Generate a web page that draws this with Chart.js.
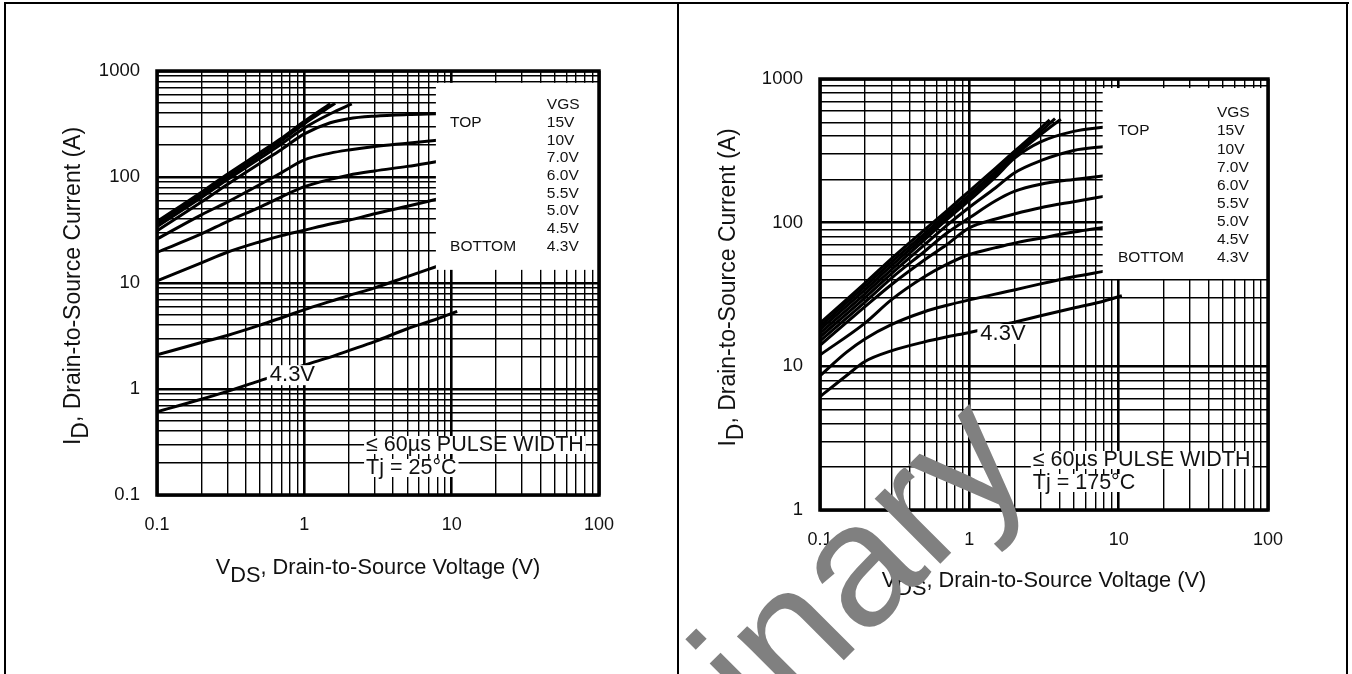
<!DOCTYPE html>
<html>
<head>
<meta charset="utf-8">
<script src="https://cdn.jsdelivr.net/npm/chart.js@4.4.1/dist/chart.umd.min.js"></script>
<style>
  html, body { margin: 0; padding: 0; background: #fff; }
  #page { position: relative; width: 1352px; height: 674px; overflow: hidden; background: #fff; }
  canvas { position: absolute; top: 0; }
  .rule { position: absolute; background: #000; }
</style>
</head>
<body>
<div id="page">
  <canvas id="fig25" width="679" height="674" style="left:0"></canvas>
  <canvas id="fig175" width="673" height="674" style="left:679px"></canvas>
  <div class="rule" style="left:4px;top:2px;width:1345px;height:2px"></div>
  <div class="rule" style="left:4px;top:2px;width:2px;height:672px"></div>
  <div class="rule" style="left:677px;top:2px;width:2px;height:672px"></div>
  <div class="rule" style="left:1346px;top:2px;width:2px;height:672px"></div>
</div>
<script>
/* ── Typical output characteristics · ID vs VDS ───────────── */

const FONT = '"Liberation Sans", Arial, Helvetica, sans-serif';
const INK  = '#111';

// ── Tick labels ─────
const xTickVals      = [0.1, 1, 10, 100];
const xTickLabels    = ['0.1', '1', '10', '100'];
const yTickVals25    = [0.1, 1, 10, 100, 1000];
const yTickLabels25  = ['0.1', '1', '10', '100', '1000'];
const yTickVals175   = [1, 10, 100, 1000];
const yTickLabels175 = ['1', '10', '100', '1000'];
const vgsLegend      = ['15V', '10V', '7.0V', '6.0V', '5.5V', '5.0V', '4.5V', '4.3V'];

// ── Tj = 25°C (VDS in V, ID in A) ─────
const vds25_a = [0.1, 0.2, 0.3, 0.5, 0.7, 1, 1.5];
const id25_a  = [38, 72, 106, 170, 232, 335, 492];
const vds25_b = [0.1, 0.2, 0.3, 0.5, 0.7, 1, 1.62];
const id25_b  = [36, 68, 100, 160, 220, 318, 495];
const vds25_c = [0.1, 0.2, 0.3, 0.5, 0.7, 1, 1.5, 2.1];
const id25_c  = [34, 64, 94, 150, 205, 290, 395, 490];
const vds25   = [0.1, 0.2, 0.3, 0.5, 0.7, 1, 1.5, 2, 3, 5, 8];
const id25_d  = [31, 58, 85, 135, 182, 255, 325, 355, 375, 388, 395];
const id25_e  = [26, 44, 58, 85, 110, 145, 168, 180, 194, 208, 222];
const id25_f  = [19.5, 29, 38, 52, 65, 81, 95, 104, 114, 126, 140];
const id25_g  = [10.5, 15.5, 19.5, 24.5, 28, 31.5, 36, 39, 45, 53, 62];
const id25_h  = [2.1, 2.75, 3.2, 4.0, 4.7, 5.6, 6.7, 7.6, 9.0, 11.5, 14.4];
const vds25_i = [0.1, 0.2, 0.3, 0.5, 0.7, 1, 1.5, 2, 3, 5, 8, 10.9];
const id25_i  = [0.61, 0.8, 0.95, 1.2, 1.4, 1.68, 2.0, 2.3, 2.8, 3.7, 4.6, 5.4];

// ── Tj = 175°C ─────
const vds175_a = [0.1, 0.2, 0.3, 0.5, 0.7, 1, 1.5, 2, 3, 3.45];
const id175_a  = [20, 38, 56, 89, 120, 166, 240, 313, 454, 520];
const vds175_b = [0.1, 0.2, 0.3, 0.5, 0.7, 1, 1.5, 2, 3, 3.75];
const id175_b  = [19, 36, 53, 84, 114, 157, 228, 300, 430, 530];
const vds175_c = [0.1, 0.2, 0.3, 0.5, 0.7, 1, 1.5, 2, 3, 4.1];
const id175_c  = [18, 34, 50, 80, 109, 150, 218, 290, 410, 525];
const vds175   = [0.1, 0.2, 0.3, 0.5, 0.7, 1, 1.5, 2, 3, 5, 8.1];
const id175_d  = [17, 32, 47, 76, 104, 143, 208, 280, 365, 432, 464];
const id175_e  = [16, 30, 44, 70, 95, 128, 175, 222, 270, 318, 339];
const id175_f  = [15, 28, 41, 63, 84, 108, 142, 165, 185, 200, 212];
const id175_g  = [14, 26, 37, 55, 70, 92, 106, 115, 127, 140, 153];
const id175_h  = [12, 20, 29, 42, 51, 60, 67, 72, 78, 86, 93];
const vds175_i = [0.1, 0.15, 0.2, 0.3, 0.5, 0.7, 1, 2, 3, 5, 8.1];
const id175_i  = [8.6, 12.5, 15.5, 19.5, 24, 26.5, 29, 34, 37.5, 42, 46];
const vds175_j = [0.1, 0.15, 0.2, 0.3, 0.5, 0.7, 1, 2, 3, 5, 8, 10.5];
const id175_j  = [6.15, 8.6, 10.8, 12.8, 14.8, 16, 17.2, 20.3, 22.5, 25.5, 28.5, 31];

const curves25 = [
  [vds25_a, id25_a], [vds25_b, id25_b], [vds25_c, id25_c],
  [vds25, id25_d], [vds25, id25_e], [vds25, id25_f], [vds25, id25_g], [vds25, id25_h],
  [vds25_i, id25_i]
];
const curves175 = [
  [vds175_a, id175_a], [vds175_b, id175_b], [vds175_c, id175_c],
  [vds175, id175_d], [vds175, id175_e], [vds175, id175_f], [vds175, id175_g], [vds175, id175_h],
  [vds175_i, id175_i], [vds175_j, id175_j]
];

// 1..9 por década
function logGrid(minExp, maxExp) {
  const out = [];
  for (let e = minExp; e < maxExp; e++) {
    for (let m = 1; m <= 9; m++) out.push({ value: +(m * Math.pow(10, e)).toPrecision(6), major: m === 1 });
  }
  out.push({ value: Math.pow(10, maxExp), major: true });
  return out;
}

function labelFor(vals, labels) {
  return v => {
    const k = vals.findIndex(t => Math.abs(t - v) < t * 1e-6);
    return k >= 0 ? labels[k] : '';
  };
}

function drawParts(ctx, parts, x0, y0) {
  let x = x0;
  parts.forEach(([t, dy]) => { ctx.fillText(t, x, y0 + dy); x += ctx.measureText(t).width; });
}
function partsWidth(ctx, parts) {
  return parts.reduce((s, [t]) => s + ctx.measureText(t).width, 0);
}

const sheetDecor = {
  id: 'sheetDecor',
  afterDatasetsDraw(chart, args, o) {
    const { ctx, chartArea: a, scales: { x, y } } = chart;
    const w = a.right - a.left, h = a.bottom - a.top;
    ctx.save();

    // legend box
    const bx = a.left + o.box[0] * w, by = a.top + o.box[1] * h;
    ctx.fillStyle = '#fff';
    ctx.fillRect(bx, by, a.right - bx, a.top + o.box[2] * h - by);
    ctx.fillStyle = INK;
    ctx.font = `15.5px ${FONT}`;
    ctx.textBaseline = 'middle';
    ctx.textAlign = 'left';
    const row0 = a.top + o.rows[0] * h, dr = o.rows[1] * h;
    ctx.fillText('VGS', a.left + o.cols[1] * w, row0);
    vgsLegend.forEach((t, k) => ctx.fillText(t, a.left + o.cols[1] * w, row0 + (k + 1) * dr));
    ctx.fillText('TOP', a.left + o.cols[0] * w, row0 + dr);
    ctx.fillText('BOTTOM', a.left + o.cols[0] * w, row0 + 8 * dr);

    // pulse note
    ctx.font = `21.5px ${FONT}`;
    o.note.forEach((t, k) => {
      const tx = a.left + o.noteAt[0] * w, ty = a.bottom - o.noteAt[1] + k * 23;
      const tw = ctx.measureText(t).width;
      ctx.fillStyle = '#fff';
      ctx.fillRect(tx - 2, ty - 9, tw + 4, 18);
      ctx.fillStyle = INK;
      ctx.fillText(t, tx, ty);
    });

    // curve tag
    const px = x.getPixelForValue(o.tagAt[0]), py = y.getPixelForValue(o.tagAt[1]);
    ctx.font = `22px ${FONT}`;
    ctx.textAlign = 'center';
    const tw = ctx.measureText('4.3V').width;
    ctx.fillStyle = '#fff';
    ctx.fillRect(px - tw / 2 - 3, py - 10, tw + 6, 20);
    ctx.fillStyle = INK;
    ctx.fillText('4.3V', px, py);

    // frame
    ctx.lineWidth = 3.5;
    ctx.strokeStyle = '#000';
    ctx.strokeRect(a.left, a.top, w, h);
    ctx.restore();
  },
  afterDraw(chart, args, o) {
    const { ctx, chartArea: a } = chart;
    ctx.save();
    ctx.fillStyle = INK;
    ctx.textAlign = 'left';
    ctx.textBaseline = 'alphabetic';

    ctx.font = `21.8px ${FONT}`;
    const xt = [['V', 0], ['DS', 8], [', Drain-to-Source Voltage (V)', 0]];
    drawParts(ctx, xt, (a.left + a.right) / 2 - partsWidth(ctx, xt) / 2, a.bottom + o.xTitleGap);

    ctx.font = `23px ${FONT}`;
    const yt = [['I', 0], ['D', 8], [', Drain-to-Source Current (A)', 0]];
    ctx.translate(a.left - o.yTitleGap, (a.top + a.bottom) / 2 + o.yTitleDy);
    ctx.rotate(-Math.PI / 2);
    drawParts(ctx, yt, -partsWidth(ctx, yt) / 2, 0);
    ctx.restore();

    if (o.watermark) {
      const m = o.watermark;
      ctx.save();
      ctx.translate(m.x, m.y);
      ctx.rotate(m.angle * Math.PI / 180);
      ctx.font = `${m.size}px ${FONT}`;
      ctx.fillStyle = '#808080';
      ctx.textBaseline = 'alphabetic';
      ctx.fillText(m.text, 0, 0);
      ctx.restore();
    }
  }
};

function makeFigure(id, curves, yMinExp, yTickVals, yTickLabels, pad, deco) {
  return new Chart(document.getElementById(id), {
    type: 'line',
    data: {
      datasets: curves.map(([v, i], k) => ({
        label: 'curve ' + (k + 1),
        data: v.map((vv, n) => ({ x: vv, y: i[n] })),
        borderColor: '#000',
        borderWidth: 3,
        pointRadius: 0,
        fill: false,
        cubicInterpolationMode: 'monotone',
      }))
    },
    options: {
      responsive: false,
      animation: false,
      layout: { padding: pad },
      plugins: {
        legend: { display: false },
        tooltip: { enabled: false },
        sheetDecor: deco,
      },
      scales: {
        x: {
          type: 'logarithmic', min: 0.1, max: 100,
          afterBuildTicks: s => { s.ticks = logGrid(-1, 2); },
          afterFit: s => { s.height = 40; },
          border: { display: false },
          grid: { color: '#000', lineWidth: c => (c.tick && c.tick.major) ? 2.6 : 1.4, drawTicks: false },
          ticks: { autoSkip: false, maxRotation: 0, padding: 19, color: INK,
                   font: { family: FONT, size: 18 }, callback: labelFor(xTickVals, xTickLabels) }
        },
        y: {
          type: 'logarithmic', min: Math.pow(10, yMinExp), max: 1000,
          afterBuildTicks: s => { s.ticks = logGrid(yMinExp, 3); },
          afterFit: s => { s.width = 100; },
          border: { display: false },
          grid: { color: '#000', lineWidth: c => (c.tick && c.tick.major) ? 2.6 : 1.4, drawTicks: false },
          ticks: { autoSkip: false, padding: 17, color: INK,
                   font: { family: FONT, size: 18.5 }, callback: labelFor(yTickVals, yTickLabels) }
        }
      }
    },
    plugins: [sheetDecor]
  });
}

makeFigure('fig25', curves25, -1, yTickVals25, yTickLabels25,
  { left: 57, right: 80, top: 71, bottom: 139 },
  { box: [0.631, 0.028, 0.469], cols: [0.663, 0.882], rows: [0.080, 0.0417],
    note: ['≤ 60µs PULSE WIDTH', 'Tj = 25°C'], noteAt: [0.473, 50], tagAt: [0.83, 1.35],
    xTitleGap: 79, yTitleGap: 77, yTitleDy: 3, watermark: null });

makeFigure('fig175', curves175, 0, yTickVals175, yTickLabels175,
  { left: 41, right: 84, top: 79, bottom: 124 },
  { box: [0.631, 0.021, 0.464], cols: [0.665, 0.886], rows: [0.079, 0.042],
    note: ['≤ 60µs PULSE WIDTH', 'Tj = 175°C'], noteAt: [0.475, 50], tagAt: [1.68, 16.8],
    xTitleGap: 77, yTitleGap: 85, yTitleDy: -7,
    watermark: { text: 'Preliminary', x: -263, y: 1088, angle: -45, size: 175 } });
</script>
</body>
</html>
